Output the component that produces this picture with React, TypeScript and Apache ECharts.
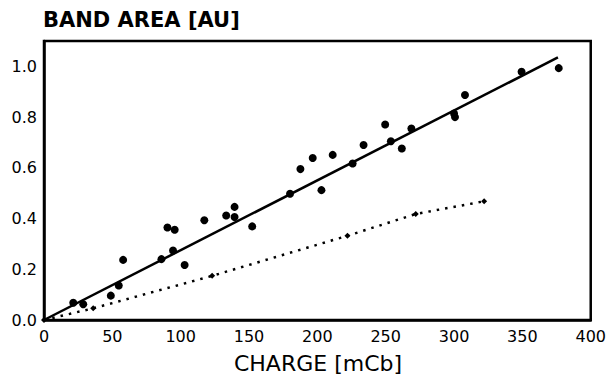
import React, { useEffect, useRef } from "react";
import * as echarts from "echarts";

const xTicks = [0, 50, 100, 150, 200, 250, 300, 350, 400];
const yTicks = [0, 0.2, 0.4, 0.6, 0.8, 1.0];

// measured points (charge mCb, band area AU)
const dotsX = [21.4, 28.7, 48.9, 54.7, 57.9, 85.9, 90.3, 95.6, 94.4, 102.9, 117.3, 133.3, 139.4, 139.4, 152.3, 180, 187.6, 196.6, 203, 211.2, 225.8, 233.8, 249.6, 253.8, 261.8, 268.8, 300, 300.7, 308, 349.4, 376.6];
const dotsY = [0.068, 0.062, 0.096, 0.136, 0.237, 0.24, 0.365, 0.356, 0.274, 0.217, 0.393, 0.412, 0.446, 0.406, 0.369, 0.498, 0.595, 0.639, 0.512, 0.651, 0.617, 0.69, 0.771, 0.705, 0.676, 0.755, 0.814, 0.8, 0.887, 0.979, 0.993];

// fitted solid line
const fitX = [0, 376];
const fitY = [0, 1.035];

// dotted curve with small markers
const dotLineX = [0, 36, 123, 222, 272, 322];
const dotLineY = [0, 0.046, 0.174, 0.332, 0.418, 0.468];

const FONT = "DejaVu Sans, Arial, sans-serif";

export default function App() {
  const ref = useRef<HTMLDivElement>(null);
  useEffect(() => {
    if (!ref.current) return;
    const chart = echarts.init(ref.current, undefined, { renderer: "svg" });
    chart.setOption({
      animation: false,
      backgroundColor: "#ffffff",
      grid: {
        left: 44,
        right: 17,
        top: 41,
        bottom: 61,
        show: true,
        borderColor: "#000",
        borderWidth: 2.5,
      },
      xAxis: {
        type: "value",
        min: 0,
        max: 400,
        interval: 50,
        axisLine: { show: true, lineStyle: { color: "#000", width: 2.5 } },
        axisTick: { show: false },
        splitLine: { show: false },
        axisLabel: {
          color: "#000",
          fontSize: 16,
          fontFamily: FONT,
          margin: 8,
          formatter: (v: number) => (xTicks.includes(v) ? String(v) : ""),
        },
      },
      yAxis: {
        type: "value",
        min: 0,
        max: 1.1,
        interval: 0.2,
        axisLine: { show: true, lineStyle: { color: "#000", width: 2.5 } },
        axisTick: { show: false },
        splitLine: { show: false },
        axisLabel: {
          color: "#000",
          fontSize: 16,
          fontFamily: FONT,
          margin: 7,
          showMaxLabel: false,
          formatter: (v: number) =>
            yTicks.some((t) => Math.abs(t - v) < 1e-6) ? v.toFixed(1) : "",
        },
      },
      graphic: [
        {
          type: "text",
          left: 43,
          top: 9,
          style: {
            text: "BAND AREA [AU]",
            fontSize: 21,
            fontWeight: "bold",
            fontFamily: FONT,
            fill: "#000",
          },
        },
        {
          type: "text",
          x: 318,
          y: 363,
          style: {
            text: "CHARGE [mCb]",
            fontSize: 22,
            fontFamily: FONT,
            fill: "#000",
            align: "center",
            verticalAlign: "middle",
          },
        },
      ],
      series: [
        {
          type: "line",
          data: fitX.map((x, i) => [x, fitY[i]]),
          showSymbol: false,
          lineStyle: { color: "#000", width: 2.5 },
          z: 2,
        },
        {
          type: "line",
          data: dotLineX.map((x, i) => [x, dotLineY[i]]),
          symbol: "diamond",
          symbolSize: 6,
          showSymbol: true,
          itemStyle: { color: "#000", opacity: 1 },
          lineStyle: { color: "#000", width: 2.5, type: [2.5, 6], cap: "butt" },
          z: 2,
        },
        {
          type: "scatter",
          data: dotsX.map((x, i) => [x, dotsY[i]]),
          symbol: "circle",
          symbolSize: 8,
          itemStyle: { color: "#000", opacity: 1 },
          z: 3,
        },
      ],
    });
    return () => chart.dispose();
  }, []);
  return (
    <div
      ref={ref}
      style={{ position: "fixed", left: 0, top: 0, width: 609, height: 381 }}
    />
  );
}
